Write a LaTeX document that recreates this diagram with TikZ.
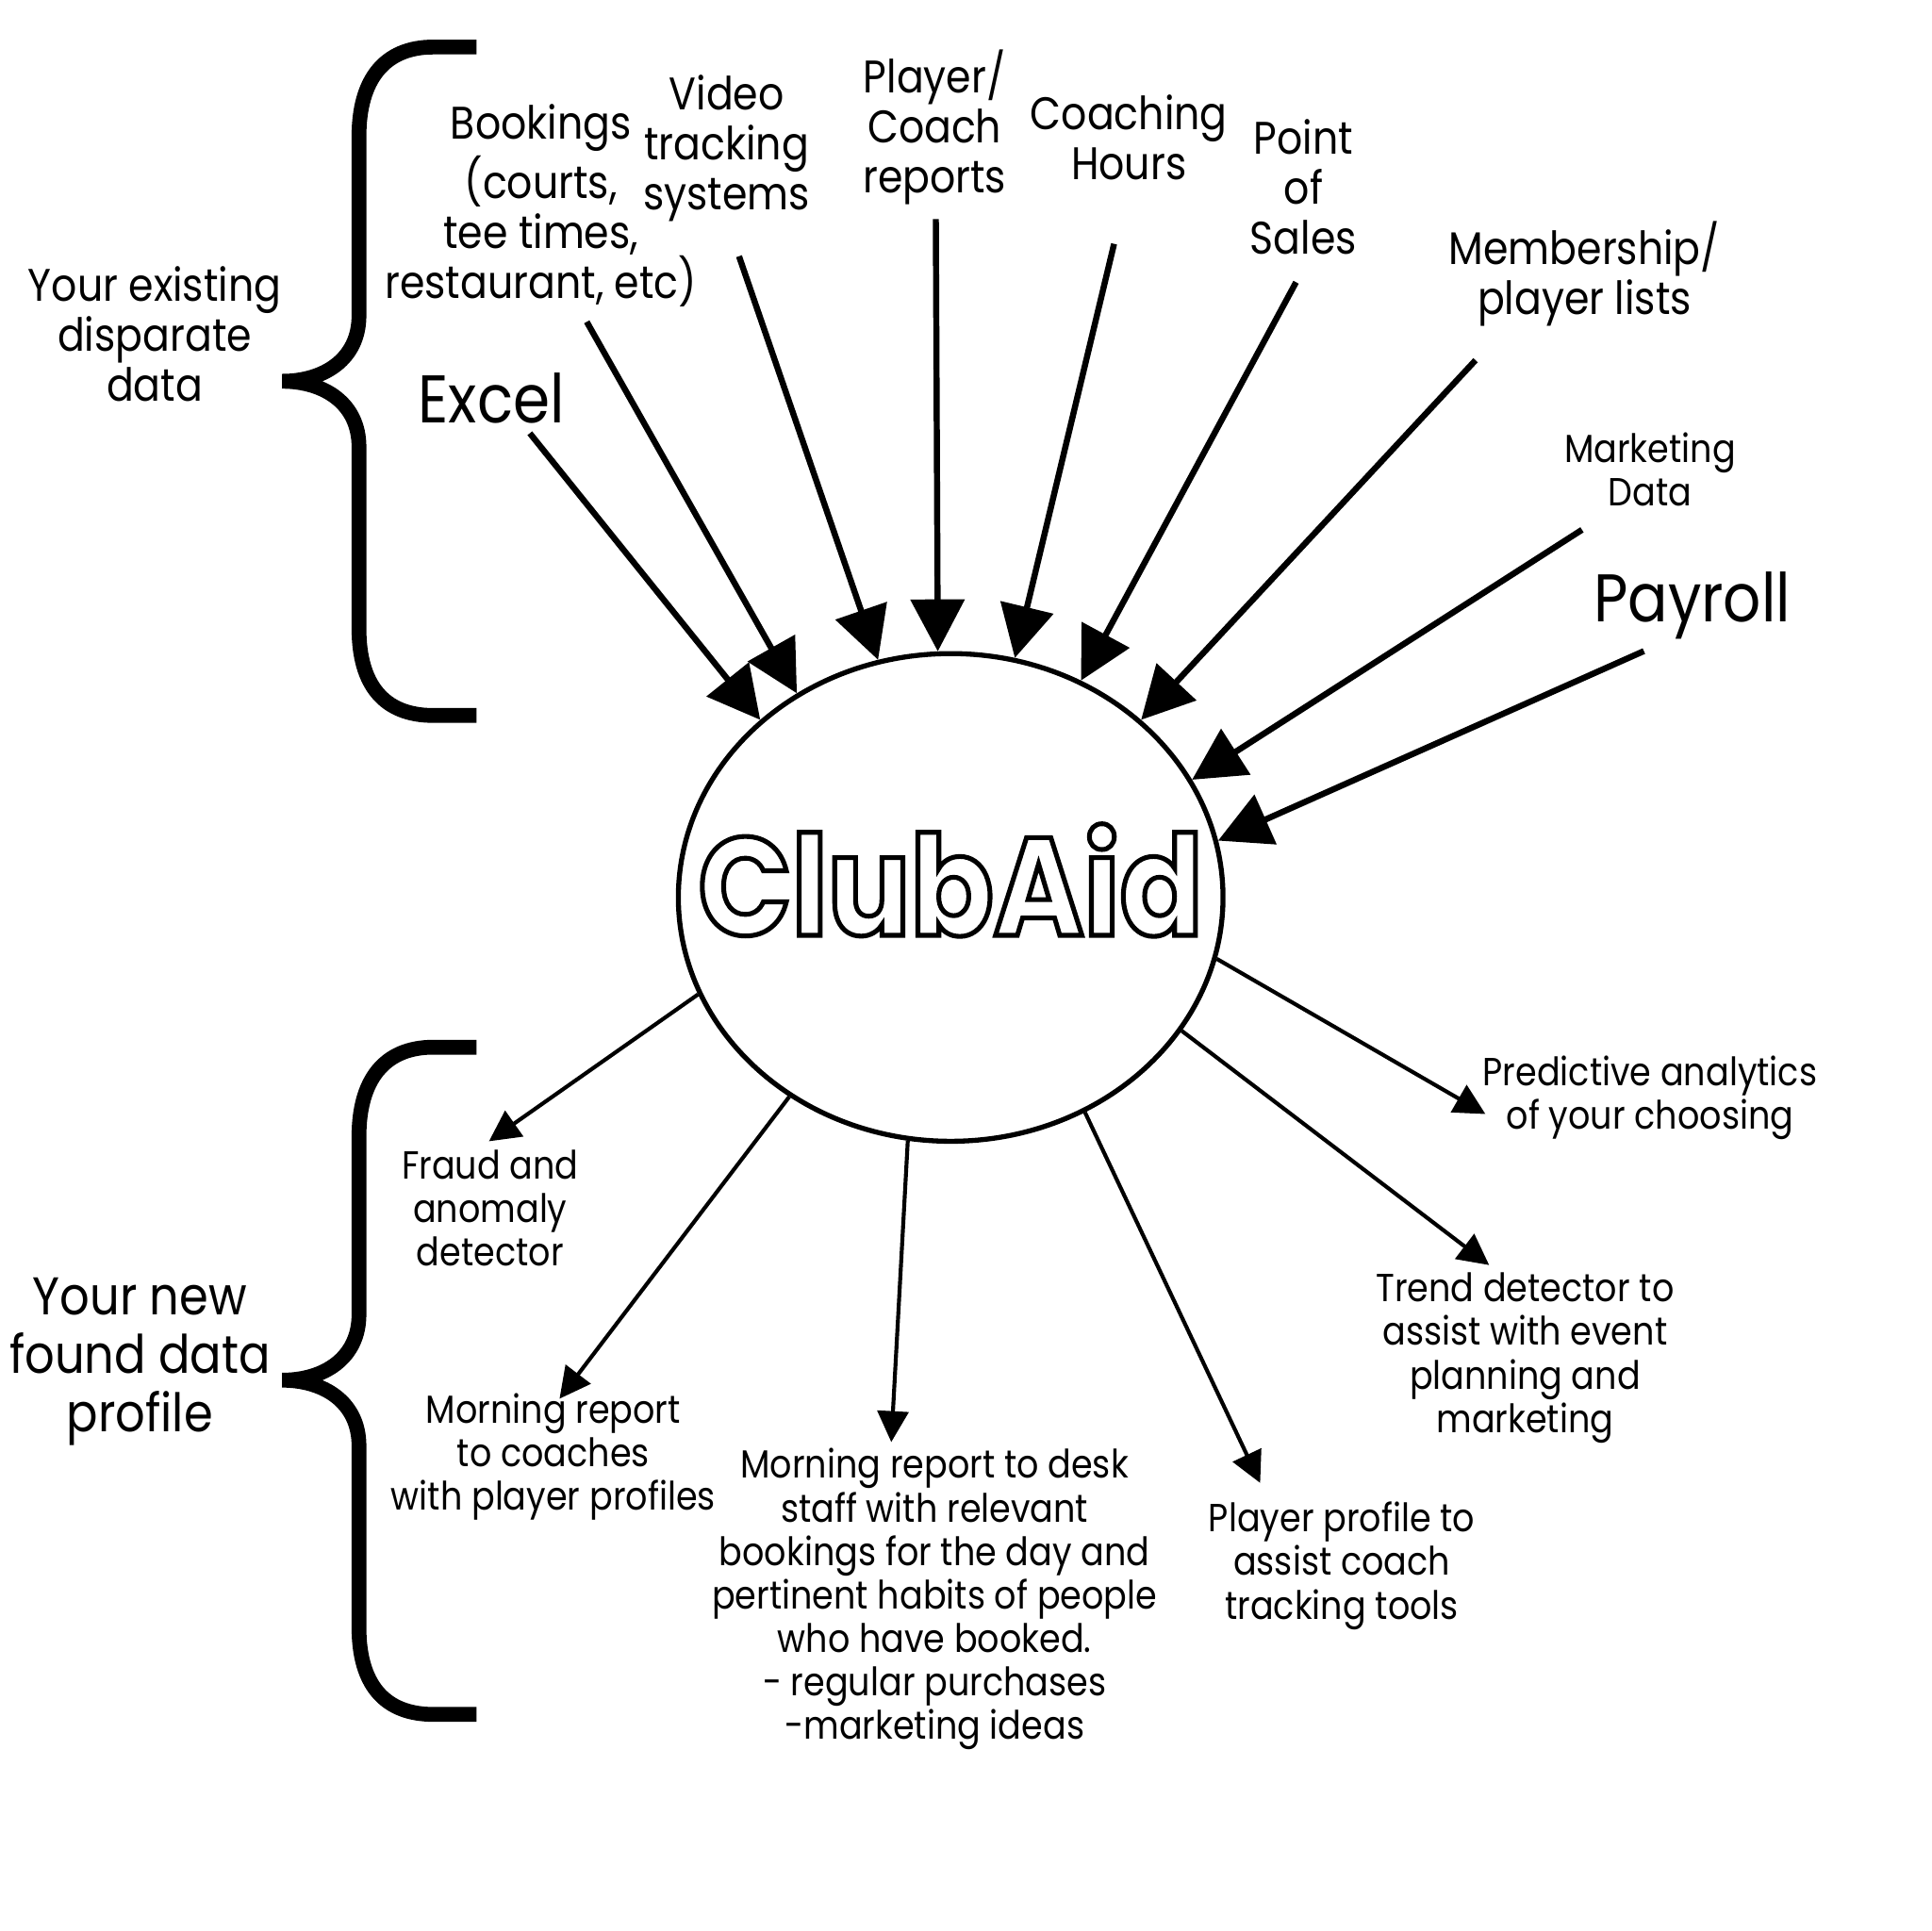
\documentclass[tikz,border=0pt]{standalone}
\usepackage{fontspec}
\setmainfont{Poppins}[FakeStretch=0.88]
\usetikzlibrary{arrows.meta,shapes.geometric,positioning}

% outlined letters: white fill, black stroke
\newcommand{\hollow}[1]{\textcolor{white}{\special{pdf:literal direct 0 G 1.1 w 2 Tr}#1\special{pdf:literal direct 0 Tr}}}

\tikzset{
  lbl/.style={align=center, inner sep=0pt, font=\fontsize{10.5}{11.5}\selectfont},
  small/.style={align=center, inner sep=0pt, font=\fontsize{9}{10}\selectfont},
  big/.style={inner sep=0pt, font=\fontsize{15.5}{18}\selectfont},
  mid/.style={align=center, inner sep=0pt, font=\fontsize{12.2}{13.4}\selectfont},
  feed/.style={line width=1.4pt, -{Triangle[length=4.2mm, width=4.3mm]}},
  yield/.style={line width=0.9pt, -{Triangle[length=2.5mm, width=2.5mm]}},
  brace/.style={line width=3.4pt}
}

\begin{document}
\begin{tikzpicture}[x=0.1mm, y=-0.1mm]
 \path[use as bounding box, fill=white] (0,0) rectangle (1560,1560);

 % The hub
 \node[ellipse, draw, line width=1.15pt,
       minimum width=44mm, minimum height=39.4mm,
       inner sep=0pt] (hub) at (768,725) {};
 \node[inner sep=0pt, font=\fontsize{32}{32}\selectfont\bfseries] (logo) at (768,711) {\hollow{ClubAid}};

 % The braces
 \draw[brace] (385,38) -- (350,38) .. controls (310,38) and (290,65) .. (290,110)
     -- (290,255) .. controls (290,290) and (262,308) .. (228,308)
     .. controls (262,308) and (290,326) .. (290,361)
     -- (290,508) .. controls (290,553) and (310,578) .. (350,578) -- (385,578);
 \draw[brace] (385,846) -- (350,846) .. controls (310,846) and (290,873) .. (290,918)
     -- (290,1062) .. controls (290,1097) and (262,1115) .. (228,1115)
     .. controls (262,1115) and (290,1133) .. (290,1168)
     -- (290,1315) .. controls (290,1360) and (310,1385) .. (350,1385) -- (385,1385);

 % The existing data
 \node[lbl] (exist) at (125,270) {Your existing\\disparate\\data};
 \node[big] (excel) at (397,322) {Excel};
 \node[lbl] (book) at (437,166) {Bookings\\(courts,\\tee times,\\restaurant, etc)};
 \node[lbl] (video) at (587,120) {Video\\tracking\\systems};
 \node[lbl] (player) at (755,103) {Player/\\Coach\\reports};
 \node[lbl] (coach) at (912,111) {Coaching\\Hours};
 \node[lbl] (pos) at (1053,151) {Point\\of\\Sales};
 \node[lbl] (member) at (1280,221) {Membership/\\player lists};
 \node[small] (mkt) at (1333,379) {Marketing\\Data};
 \node[big] (payroll) at (1367,489) {Payroll};

 \coordinate (excelS) at (428,350);
 \coordinate (bookS) at (474,260);
 \coordinate (videoS) at (597,207);
 \coordinate (playerS) at (756,177);
 \coordinate (coachS) at (900,197);
 \coordinate (posS) at (1047,228);
 \coordinate (memberS) at (1192,291);
 \coordinate (mktS) at (1278,428);
 \coordinate (payrollS) at (1328,526);

 \path
     (excelS) edge[feed] (hub.137)
     (bookS) edge[feed] (hub.127)
     (videoS) edge[feed] (hub.107.5)
     (playerS) edge[feed] (hub.93.4)
     (coachS) edge[feed] (hub.75.6)
     (posS) edge[feed] (hub.59.6)
     (memberS) edge[feed] (hub.43)
     (mktS) edge[feed] (hub.26.6)
     (payrollS) edge[feed] (hub.12.8);

 % The new profile
 \node[mid] (newf) at (113,1100) {Your new\\found data\\profile};
 \node[small] (fraud) at (396,976) {Fraud and\\anomaly\\detector};
 \node[small] (mcoach) at (447,1177) {Morning report\\to coaches\\with player profiles};
 \node[small] (desk) at (755,1292) {Morning report to desk\\staff with relevant\\bookings for the day and\\pertinent habits of people\\who have booked.\\- regular purchases\\-marketing ideas};
 \node[small] (pprof) at (1084,1265) {Player profile to\\assist coach\\tracking tools};
 \node[small] (trend) at (1232,1097) {Trend detector to\\assist with event\\planning and\\marketing};
 \node[small] (pred) at (1333,887) {Predictive analytics\\of your choosing};

 \coordinate (fraudT) at (395,922);
 \coordinate (mcoachT) at (452,1130);
 \coordinate (deskT) at (720,1165);
 \coordinate (pprofT) at (1018,1198);
 \coordinate (trendT) at (1203,1022);
 \coordinate (predT) at (1200,900);

 \path
     (hub.201.3) edge[yield] (fraudT)
     (hub.231.9) edge[yield] (mcoachT)
     (hub.260.2) edge[yield] (deskT)
     (hub.302.9) edge[yield] (pprofT)
     (hub.330.2) edge[yield] (trendT)
     (hub.347.7) edge[yield] (predT);
\end{tikzpicture}
\end{document}
